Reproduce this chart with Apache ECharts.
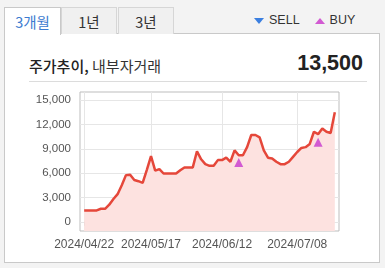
<!DOCTYPE html>
<html><head><meta charset="utf-8">
<script src="https://cdn.jsdelivr.net/npm/echarts@6/dist/echarts.min.js"></script>
<style>
html,body{margin:0;padding:0;width:385px;height:268px;background:#f3f3f3;overflow:hidden;font-family:"Noto Sans CJK KR","Liberation Sans",sans-serif;}
#panel{position:absolute;left:4px;top:33px;width:376px;height:230px;background:#fff;border:1px solid #c9c9c9;box-sizing:border-box;}
.tab{position:absolute;top:7px;height:27px;box-sizing:border-box;border:1px solid #d6d6d6;border-bottom:none;background:#f0f0f0;font-size:14.5px;color:#333;text-align:center;line-height:27px;}
.tab.on{background:#fff;color:#3b7bd0;border-color:#c9c9c9;height:28px;z-index:2;}
#legend{position:absolute;top:13px;left:254px;font-family:"Liberation Sans",Arial,sans-serif;font-size:12.5px;color:#333;}
.tri{display:inline-block;width:0;height:0;border-left:5.5px solid transparent;border-right:5.5px solid transparent;vertical-align:middle;margin-right:5px;}
#title{position:absolute;left:29px;top:55px;font-size:15px;color:#333;}
#price{position:absolute;right:22px;top:51px;font-family:"Liberation Sans",Arial,sans-serif;font-weight:bold;font-size:21.5px;color:#222;}
#rule{position:absolute;left:29px;top:81px;width:338px;height:1px;background:#dcdcdc;}
#chart{position:absolute;left:0;top:0;width:385px;height:268px;}
</style></head>
<body>
<div id="panel"></div>
<div class="tab on" style="left:4px;width:57px;">3개월</div>
<div class="tab" style="left:61px;width:56px;">1년</div>
<div class="tab" style="left:118px;width:56px;">3년</div>
<div id="legend"><span class="tri" style="border-top:6px solid #3b7fe0;"></span>SELL<span style="display:inline-block;width:15px"></span><span class="tri" style="border-bottom:6px solid #d25ad2;"></span>BUY</div>
<div id="title"><span style="font-weight:500;color:#222">주가추이,</span> 내부자거래</div>
<div id="price">13,500</div>
<div id="rule"></div>
<div id="chart"></div>
<script>
const dates = ['2024/04/22','2024/04/23','2024/04/24','2024/04/25','2024/04/26','2024/04/29','2024/04/30','2024/05/02','2024/05/03','2024/05/07','2024/05/08','2024/05/09','2024/05/10','2024/05/13','2024/05/14','2024/05/16','2024/05/17','2024/05/20','2024/05/21','2024/05/22','2024/05/23','2024/05/24','2024/05/27','2024/05/28','2024/05/29','2024/05/30','2024/05/31','2024/06/03','2024/06/04','2024/06/05','2024/06/07','2024/06/10','2024/06/11','2024/06/12','2024/06/13','2024/06/14','2024/06/17','2024/06/18','2024/06/19','2024/06/20','2024/06/21','2024/06/24','2024/06/25','2024/06/26','2024/06/27','2024/06/28','2024/07/01','2024/07/02','2024/07/03','2024/07/04','2024/07/05','2024/07/08','2024/07/09','2024/07/10','2024/07/11','2024/07/12','2024/07/15','2024/07/16','2024/07/17','2024/07/18','2024/07/19'];
const prices = [1400,1400,1400,1400,1600,1600,2100,2800,3400,4500,5750,5800,5150,5000,4800,6400,8100,6300,6500,5950,5950,5950,5950,6350,6700,6700,6700,8700,7700,7100,6900,6900,7600,7600,7900,7400,8800,8200,8200,9200,10700,10700,10400,8800,7900,7800,7400,7100,7100,7400,8000,8600,9100,9200,9600,11100,10800,11500,11100,10950,13500];
const buyDates = ['2024/06/18','2024/07/15'];
const buyMarks = [7300,9800];
const sellDates = [];
const sellMarks = [];
const xTickLabels = ['2024/04/22','2024/05/17','2024/06/12','2024/07/08'];
const yTicks = [0,3000,6000,9000,12000,15000];

const xTickIdx = xTickLabels.map(d => dates.indexOf(d));
const lineData = prices.map((v,i) => [i, v]);
const buyData = buyDates.map((d,i) => [dates.indexOf(d), buyMarks[i]]);
const sellData = sellDates.map((d,i) => [dates.indexOf(d), sellMarks[i]]);

const chart = echarts.init(document.getElementById('chart'));
chart.setOption({
  animation:false,
  grid:{left:80,top:92,right:46,bottom:37,show:true,borderColor:'#bdbdbd',borderWidth:1,backgroundColor:'#fff'},
  xAxis:{type:'value',min:-1,max:dates.length,
    axisLine:{show:false},
    axisTick:{show:true,customValues:xTickIdx,length:4,lineStyle:{color:'#bdbdbd'}},
    axisLabel:{customValues:xTickIdx,formatter:v=>dates[v],color:'#555',fontSize:12,fontFamily:'Liberation Sans, Arial',margin:8},
    splitLine:{show:true,lineStyle:{color:'#e6e6e6'}}},
  yAxis:{type:'value',min:-1140,max:16000,
    axisLine:{show:false},
    axisTick:{show:false,customValues:yTicks},
    axisLabel:{customValues:yTicks,formatter:v=>v.toLocaleString('en-US'),color:'#555',fontSize:11.5,fontFamily:'Liberation Sans, Arial',margin:9},
    splitLine:{show:true,lineStyle:{color:'#e6e6e6'}}},
  series:[
    {type:'line',z:2,data:lineData,symbol:'none',lineStyle:{color:'#e5473a',width:2.5},
      areaStyle:{color:'#fde2e0',opacity:1,origin:'start'}},
    {type:'scatter',z:10,data:buyData,symbol:'triangle',symbolSize:9,itemStyle:{color:'#d25ad2',opacity:1}},
    {type:'scatter',z:10,data:sellData,symbol:'triangle',symbolRotate:180,symbolSize:9,itemStyle:{color:'#3b7fe0',opacity:1}}
  ]
});
</script>
</body></html>
